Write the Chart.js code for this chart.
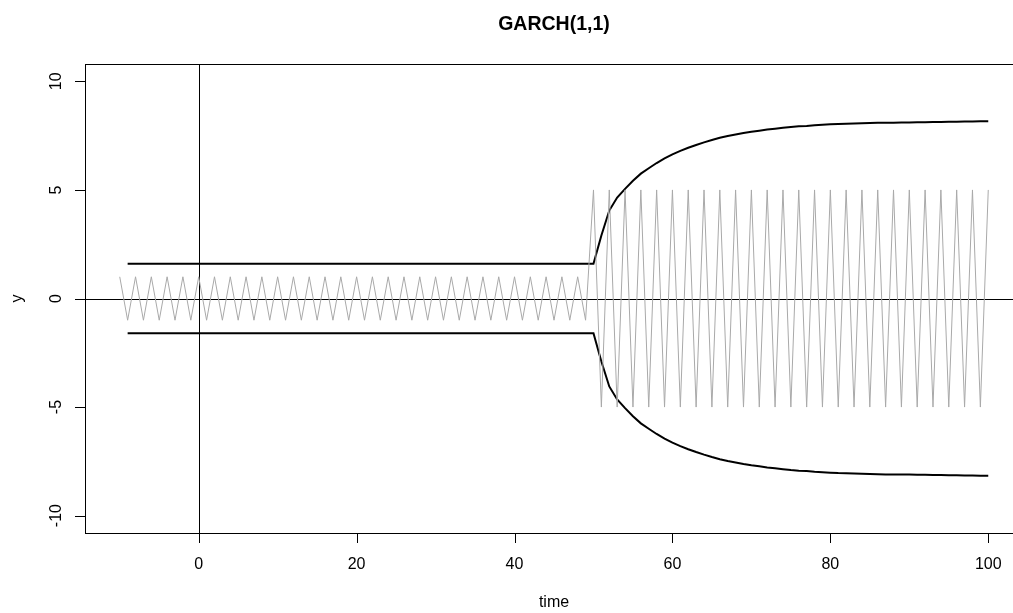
<!DOCTYPE html>
<html>
<head>
<meta charset="utf-8">
<title>GARCH(1,1)</title>
<script src="https://cdn.jsdelivr.net/npm/chart.js@4.4.1/dist/chart.umd.min.js"></script>
<style>
    html, body { margin: 0; padding: 0; background: #fff; overflow: hidden; }
    #wrap { width: 1013px; height: 613px; overflow: hidden; }
</style>
</head>
<body>
<div id="wrap"><canvas id="garchChart" width="1040" height="613"></canvas></div>
<script>
// shocks, t = -10 .. 100
const shockTime = [
    -10, -9, -8, -7, -6, -5, -4, -3, -2, -1,
    0, 1, 2, 3, 4, 5, 6, 7, 8, 9,
    10, 11, 12, 13, 14, 15, 16, 17, 18, 19,
    20, 21, 22, 23, 24, 25, 26, 27, 28, 29,
    30, 31, 32, 33, 34, 35, 36, 37, 38, 39,
    40, 41, 42, 43, 44, 45, 46, 47, 48, 49,
    50, 51, 52, 53, 54, 55, 56, 57, 58, 59,
    60, 61, 62, 63, 64, 65, 66, 67, 68, 69,
    70, 71, 72, 73, 74, 75, 76, 77, 78, 79,
    80, 81, 82, 83, 84, 85, 86, 87, 88, 89,
    90, 91, 92, 93, 94, 95, 96, 97, 98, 99,
    100
];
const shockValues = [
    1, -1, 1, -1, 1, -1, 1, -1, 1, -1,
    1, -1, 1, -1, 1, -1, 1, -1, 1, -1,
    1, -1, 1, -1, 1, -1, 1, -1, 1, -1,
    1, -1, 1, -1, 1, -1, 1, -1, 1, -1,
    1, -1, 1, -1, 1, -1, 1, -1, 1, -1,
    1, -1, 1, -1, 1, -1, 1, -1, 1, -1,
    5, -5, 5, -5, 5, -5, 5, -5, 5, -5,
    5, -5, 5, -5, 5, -5, 5, -5, 5, -5,
    5, -5, 5, -5, 5, -5, 5, -5, 5, -5,
    5, -5, 5, -5, 5, -5, 5, -5, 5, -5,
    5, -5, 5, -5, 5, -5, 5, -5, 5, -5,
    5
];

// volatility band, t = -9 .. 100
const bandTime = shockTime.slice(1);
const bandUpper = [
    1.6, 1.6, 1.6, 1.6, 1.6, 1.6, 1.6, 1.6, 1.6,
    1.6, 1.6, 1.6, 1.6, 1.6, 1.6, 1.6, 1.6, 1.6, 1.6,
    1.6, 1.6, 1.6, 1.6, 1.6, 1.6, 1.6, 1.6, 1.6, 1.6,
    1.6, 1.6, 1.6, 1.6, 1.6, 1.6, 1.6, 1.6, 1.6, 1.6,
    1.6, 1.6, 1.6, 1.6, 1.6, 1.6, 1.6, 1.6, 1.6, 1.6,
    1.6, 1.6, 1.6, 1.6, 1.6, 1.6, 1.6, 1.6, 1.6, 1.6,
    1.6, 2.9, 4.05, 4.65, 5.05, 5.42, 5.75, 6.0, 6.24, 6.45,
    6.64, 6.8, 6.94, 7.07, 7.19, 7.3, 7.4, 7.48, 7.55, 7.62,
    7.68, 7.73, 7.78, 7.82, 7.86, 7.9, 7.93, 7.95, 7.98, 8.0,
    8.02, 8.04, 8.05, 8.06, 8.07, 8.08, 8.09, 8.1, 8.1, 8.11,
    8.11, 8.12, 8.12, 8.13, 8.13, 8.14, 8.14, 8.15, 8.15, 8.16,
    8.16
];
const bandLower = [
    -1.6, -1.6, -1.6, -1.6, -1.6, -1.6, -1.6, -1.6, -1.6,
    -1.6, -1.6, -1.6, -1.6, -1.6, -1.6, -1.6, -1.6, -1.6, -1.6,
    -1.6, -1.6, -1.6, -1.6, -1.6, -1.6, -1.6, -1.6, -1.6, -1.6,
    -1.6, -1.6, -1.6, -1.6, -1.6, -1.6, -1.6, -1.6, -1.6, -1.6,
    -1.6, -1.6, -1.6, -1.6, -1.6, -1.6, -1.6, -1.6, -1.6, -1.6,
    -1.6, -1.6, -1.6, -1.6, -1.6, -1.6, -1.6, -1.6, -1.6, -1.6,
    -1.6, -2.9, -4.05, -4.65, -5.05, -5.42, -5.75, -6.0, -6.24, -6.45,
    -6.64, -6.8, -6.94, -7.07, -7.19, -7.3, -7.4, -7.48, -7.55, -7.62,
    -7.68, -7.73, -7.78, -7.82, -7.86, -7.9, -7.93, -7.95, -7.98, -8.0,
    -8.02, -8.04, -8.05, -8.06, -8.07, -8.08, -8.09, -8.1, -8.1, -8.11,
    -8.11, -8.12, -8.12, -8.13, -8.13, -8.14, -8.14, -8.15, -8.15, -8.16,
    -8.16
];

const xTicks = [0, 20, 40, 60, 80, 100];
const yTicks = [-10, -5, 0, 5, 10];

const FONT = '"Liberation Sans", Arial, Helvetica, sans-serif';

function toPoints(xs, ys) {
    return xs.map((x, i) => ({ x: x, y: ys[i] }));
}

// R style box, axes, ticks and titles
const baseAxes = {
    id: 'baseAxes',
    beforeDatasetsDraw(chart) {
        const { ctx, chartArea: a, scales: { x, y } } = chart;
        // reference lines at 0
        ctx.save();
        ctx.beginPath();
        ctx.rect(a.left, a.top, a.right - a.left, a.bottom - a.top);
        ctx.clip();
        ctx.strokeStyle = '#000';
        ctx.lineWidth = 1;
        const x0 = Math.round(x.getPixelForValue(0)) + 0.5;
        const y0 = Math.round(y.getPixelForValue(0)) + 0.5;
        ctx.beginPath();
        ctx.moveTo(x0, a.top);
        ctx.lineTo(x0, a.bottom);
        ctx.moveTo(a.left, y0);
        ctx.lineTo(a.right, y0);
        ctx.stroke();
        ctx.restore();
    },
    afterDraw(chart) {
        const { ctx, chartArea: a, scales: { x, y } } = chart;
        ctx.save();
        ctx.strokeStyle = '#000';
        ctx.fillStyle = '#000';
        ctx.lineWidth = 1;

        // box
        ctx.strokeRect(Math.round(a.left) + 0.5, Math.round(a.top) + 0.5,
            Math.round(a.right - a.left), Math.round(a.bottom - a.top));

        // x axis
        ctx.font = '16px ' + FONT;
        ctx.textAlign = 'center';
        ctx.textBaseline = 'middle';
        ctx.beginPath();
        xTicks.forEach(v => {
            const px = Math.round(x.getPixelForValue(v)) + 0.5;
            ctx.moveTo(px, a.bottom);
            ctx.lineTo(px, a.bottom + 10);
        });
        ctx.stroke();
        xTicks.forEach(v => {
            ctx.fillText(String(v), x.getPixelForValue(v), a.bottom + 32);
        });

        // y axis
        ctx.beginPath();
        yTicks.forEach(v => {
            const py = Math.round(y.getPixelForValue(v)) + 0.5;
            ctx.moveTo(a.left, py);
            ctx.lineTo(a.left - 10, py);
        });
        ctx.stroke();
        yTicks.forEach(v => {
            ctx.save();
            ctx.translate(a.left - 28, y.getPixelForValue(v));
            ctx.rotate(-Math.PI / 2);
            ctx.fillText(String(v), 0, 0);
            ctx.restore();
        });

        // axis titles
        ctx.fillText('time', (a.left + a.right) / 2, 603);
        ctx.save();
        ctx.translate(18, (a.top + a.bottom) / 2);
        ctx.rotate(-Math.PI / 2);
        ctx.fillText('y', 0, 0);
        ctx.restore();

        // main title
        ctx.font = 'bold 19.5px ' + FONT;
        ctx.fillText('GARCH(1,1)', (a.left + a.right) / 2, 25);
        ctx.restore();
    }
};

new Chart(document.getElementById('garchChart'), {
    type: 'line',
    data: {
        datasets: [
            {
                label: 'shock',
                data: toPoints(shockTime, shockValues),
                borderColor: '#a9a9a9',
                borderWidth: 1,
                pointRadius: 0,
                tension: 0
            },
            {
                label: 'upper',
                data: toPoints(bandTime, bandUpper),
                borderColor: '#000',
                borderWidth: 2,
                pointRadius: 0,
                tension: 0
            },
            {
                label: 'lower',
                data: toPoints(bandTime, bandLower),
                borderColor: '#000',
                borderWidth: 2,
                pointRadius: 0,
                tension: 0
            }
        ]
    },
    options: {
        responsive: false,
        animation: false,
        devicePixelRatio: 1,
        layout: {
            padding: { left: 85, top: 64, right: 17, bottom: 80 }
        },
        plugins: {
            legend: { display: false },
            tooltip: { enabled: false },
            title: { display: false }
        },
        scales: {
            x: {
                type: 'linear',
                min: -14.4,
                max: 104.4,
                display: false
            },
            y: {
                type: 'linear',
                min: -10.8,
                max: 10.8,
                display: false
            }
        }
    },
    plugins: [baseAxes]
});
</script>
</body>
</html>
